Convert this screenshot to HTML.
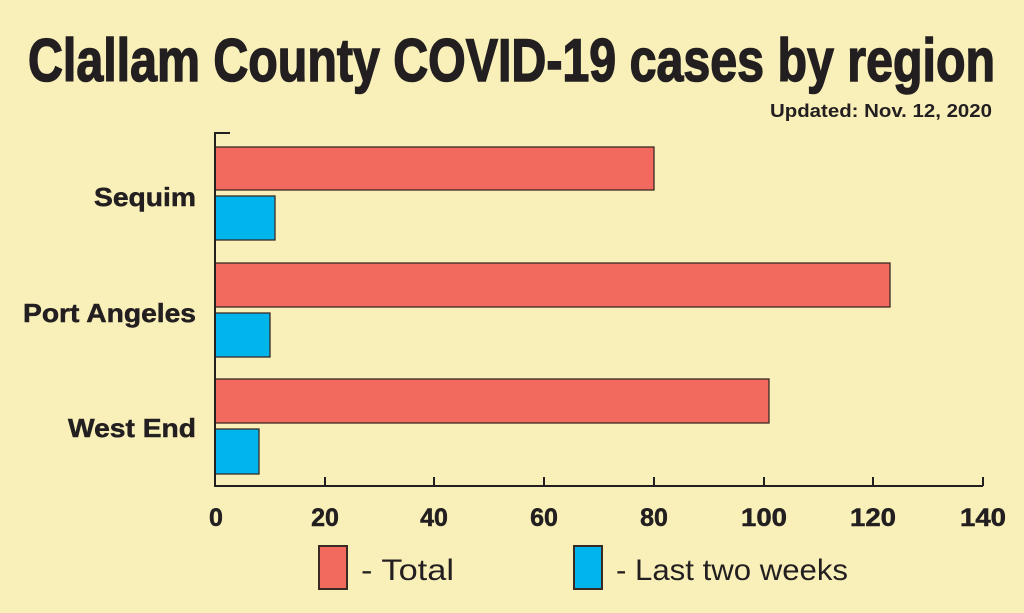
<!DOCTYPE html>
<html><head><meta charset="utf-8"><style>
html,body{margin:0;padding:0;background:#f9f0b9;}
svg{display:block;}
</style></head><body>
<svg width="1024" height="613" viewBox="0 0 1024 613" xmlns="http://www.w3.org/2000/svg">
<rect width="1024" height="613" fill="#f9f0b9"/>
<g font-family="Liberation Sans, Arial, sans-serif" fill="#231f20">
<text x="28" y="81" font-size="60" font-weight="bold" stroke="#231f20" stroke-width="1.5" textLength="967" lengthAdjust="spacingAndGlyphs">Clallam County COVID-19 cases by region</text>
<text x="992" y="117" font-size="18" font-weight="bold" text-anchor="end" textLength="222" lengthAdjust="spacingAndGlyphs">Updated: Nov. 12, 2020</text>
<g font-size="26" font-weight="bold" stroke="#231f20" stroke-width="0.5" text-anchor="end">
<text x="196" y="206" textLength="102" lengthAdjust="spacingAndGlyphs">Sequim</text>
<text x="196" y="322" textLength="173" lengthAdjust="spacingAndGlyphs">Port Angeles</text>
<text x="196" y="437" textLength="128" lengthAdjust="spacingAndGlyphs">West End</text>
</g>
</g>
<g stroke="#3a2a24" stroke-width="1.3">
<rect x="215" y="147" width="439" height="43" fill="#f26a5e"/>
<rect x="215" y="196" width="60" height="44" fill="#00b5ec"/>
<rect x="215" y="263" width="675" height="44" fill="#f26a5e"/>
<rect x="215" y="313" width="55" height="44" fill="#00b5ec"/>
<rect x="215" y="379" width="554" height="44" fill="#f26a5e"/>
<rect x="215" y="429" width="44" height="45" fill="#00b5ec"/>
</g>
<g stroke="#231f20" stroke-width="2" fill="none">
<path d="M230 133H215V486H983"/>
<path d="M325 477V486M434 477V486M544 477V486M654 477V486M764 477V486M873 477V486M983 477V486"/>
</g>
<g font-family="Liberation Sans, Arial, sans-serif" font-weight="bold" font-size="25" fill="#231f20" stroke="#231f20" stroke-width="0.5" text-anchor="middle">
<text x="216" y="526">0</text><text x="325" y="526">20</text><text x="434" y="526">40</text><text x="544" y="526">60</text><text x="654" y="526">80</text><text x="764" y="526" textLength="46" lengthAdjust="spacingAndGlyphs">100</text><text x="873" y="526" textLength="46" lengthAdjust="spacingAndGlyphs">120</text><text x="983" y="526" textLength="46" lengthAdjust="spacingAndGlyphs">140</text>
</g>
<rect x="319" y="546" width="28" height="43" fill="#f26a5e" stroke="#3a2a24" stroke-width="2"/>
<rect x="574" y="546" width="28" height="43" fill="#00b5ec" stroke="#3a2a24" stroke-width="2"/>
<g font-family="Liberation Sans, Arial, sans-serif" font-size="30" fill="#231f20">
<text x="361" y="580" textLength="93" lengthAdjust="spacingAndGlyphs">- Total</text>
<text x="616" y="580" textLength="232" lengthAdjust="spacingAndGlyphs">- Last two weeks</text>
</g>
</svg>
</body></html>
